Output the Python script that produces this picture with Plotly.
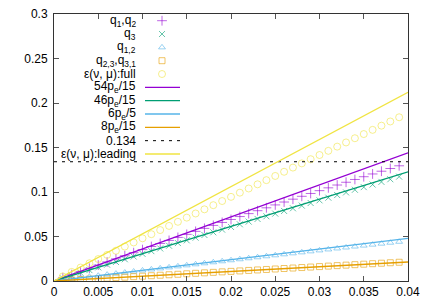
import plotly.graph_objects as go

# ---------------- data ----------------
pe = [0.001, 0.002, 0.003, 0.004, 0.005, 0.006, 0.007, 0.008, 0.009, 0.010,
      0.011, 0.012, 0.013, 0.014, 0.015, 0.016, 0.017, 0.018, 0.019, 0.020,
      0.021, 0.022, 0.023, 0.024, 0.025, 0.026, 0.027, 0.028, 0.029, 0.030,
      0.031, 0.032, 0.033, 0.034, 0.035, 0.036, 0.037, 0.038, 0.039]

q1_q2 = [0.00359, 0.00717, 0.01074, 0.01428, 0.01782, 0.02134, 0.02485, 0.02834, 0.03182, 0.03528,
         0.03873, 0.04216, 0.04558, 0.04899, 0.05238, 0.05576, 0.05912, 0.06247, 0.06580, 0.06912,
         0.07242, 0.07572, 0.07899, 0.08225, 0.08550, 0.08873, 0.09195, 0.09516, 0.09834, 0.10152,
         0.10468, 0.10783, 0.11096, 0.11408, 0.11718, 0.12027, 0.12334, 0.12640, 0.12945]

q3 = [0.00307, 0.00613, 0.00919, 0.01224, 0.01530, 0.01834, 0.02139, 0.02444, 0.02748, 0.03051,
      0.03355, 0.03658, 0.03961, 0.04263, 0.04566, 0.04867, 0.05169, 0.05470, 0.05771, 0.06072,
      0.06372, 0.06672, 0.06972, 0.07272, 0.07571, 0.07870, 0.08168, 0.08467, 0.08764, 0.09062,
      0.09359, 0.09656, 0.09953, 0.10249, 0.10546, 0.10841, 0.11137, 0.11432, 0.11727]

q12 = [0.00120, 0.00239, 0.00358, 0.00477, 0.00596, 0.00714, 0.00831, 0.00948, 0.01065, 0.01182,
       0.01298, 0.01414, 0.01530, 0.01645, 0.01760, 0.01874, 0.01988, 0.02102, 0.02215, 0.02328,
       0.02441, 0.02553, 0.02665, 0.02776, 0.02888, 0.02998, 0.03109, 0.03219, 0.03329, 0.03438,
       0.03547, 0.03656, 0.03764, 0.03872, 0.03980, 0.04087, 0.04194, 0.04300, 0.04406]

q23_q31 = [0.00054, 0.00108, 0.00162, 0.00216, 0.00270, 0.00324, 0.00378, 0.00432, 0.00486, 0.00540,
           0.00594, 0.00648, 0.00702, 0.00756, 0.00810, 0.00864, 0.00918, 0.00972, 0.01026, 0.01080,
           0.01134, 0.01188, 0.01242, 0.01296, 0.01350, 0.01404, 0.01458, 0.01512, 0.01566, 0.01620,
           0.01674, 0.01728, 0.01782, 0.01836, 0.01890, 0.01944, 0.01998, 0.02052, 0.02106]

eps_full = [0.00519, 0.01022, 0.01511, 0.01992, 0.02466, 0.02935, 0.03402, 0.03868, 0.04332, 0.04796,
            0.05260, 0.05724, 0.06189, 0.06653, 0.07119, 0.07585, 0.08052, 0.08519, 0.08987, 0.09455,
            0.09925, 0.10394, 0.10863, 0.11332, 0.11802, 0.12272, 0.12743, 0.13213, 0.13684, 0.14156,
            0.14626, 0.15098, 0.15568, 0.16040, 0.16511, 0.16981, 0.17453, 0.17925, 0.18396]

line_x = [0.0, 0.04]
line_54 = [0.0, 0.144]
line_46 = [0.0, 0.12267]
line_6_5 = [0.0, 0.048]
line_8 = [0.0, 0.02133]
line_const = [0.134, 0.134]
line_leading = [0.0, 0.212]

x_ticks = [0, 0.005, 0.01, 0.015, 0.02, 0.025, 0.03, 0.035, 0.04]
x_labels = ["0", "0.005", "0.01", "0.015", "0.02", "0.025", "0.03", "0.035", "0.04"]
y_ticks = [0, 0.05, 0.1, 0.15, 0.2, 0.25, 0.3]
y_labels = ["0", "0.05", "0.1", "0.15", "0.2", "0.25", "0.3"]

legend_labels = ["q<sub>1</sub>,q<sub>2</sub>", "q<sub>3</sub>", "q<sub>1,2</sub>",
                 "q<sub>2,3</sub>,q<sub>3,1</sub>", "ε(ν, μ):full",
                 "54p<sub>e</sub>/15", "46p<sub>e</sub>/15", "6p<sub>e</sub>/5",
                 "8p<sub>e</sub>/15", "0.134", "ε(ν, μ):leading"]

# ---------------- styles ----------------
PURPLE = "#9400d3"
GREEN = "#009e73"
BLUE = "#56b4e9"
ORANGE = "#e69f00"
YELLOW = "#f0e442"
FONT = "Liberation Sans, Arial, sans-serif"

point_series = [
    (q1_q2, PURPLE, "cross-thin-open", 7),
    (q3, GREEN, "x-thin-open", 6),
    (q12, BLUE, "triangle-up-open", 6),
    (q23_q31, ORANGE, "square-open", 6),
    (eps_full, YELLOW, "circle-open", 7),
]
line_series = [
    (line_54, PURPLE, "solid"),
    (line_46, GREEN, "solid"),
    (line_6_5, BLUE, "solid"),
    (line_8, ORANGE, "solid"),
    (line_const, "#000000", "3px,5px"),
    (line_leading, YELLOW, "solid"),
]

fig = go.Figure()

for ys, col, sym, sz in point_series:
    fig.add_trace(go.Scatter(
        x=pe, y=ys, mode="markers", showlegend=False,
        marker=dict(symbol=sym, size=sz, color=col, opacity=0.6,
                    line=dict(color=col, width=1)),
    ))

for ys, col, dash in line_series:
    fig.add_trace(go.Scatter(
        x=line_x, y=ys, mode="lines", showlegend=False,
        line=dict(color=col, width=1.3 if dash == "solid" else 1, dash=dash),
    ))

# ---------------- hand-made gnuplot-style key (overlay axes in pixel units) ----------------
row0, row_step = 20.7, 13.33
text_right = 138
marker_x = 162
sample_x = [145, 180]

for i, lab in enumerate(legend_labels):
    yy = row0 + i * row_step
    fig.add_annotation(x=text_right, y=yy, xref="x2", yref="y2", text=lab,
                       showarrow=False, xanchor="right", yanchor="middle",
                       font=dict(family=FONT, size=12, color="#000000"))
    if i < len(point_series):
        _, col, sym, sz = point_series[i]
        fig.add_trace(go.Scatter(
            x=[marker_x], y=[yy], xaxis="x2", yaxis="y2", mode="markers",
            showlegend=False, hoverinfo="skip",
            marker=dict(symbol=sym, size=sz, color=col, opacity=0.6,
                        line=dict(color=col, width=1))))
    else:
        _, col, dash = line_series[i - len(point_series)]
        fig.add_trace(go.Scatter(
            x=sample_x, y=[yy, yy], xaxis="x2", yaxis="y2", mode="lines",
            showlegend=False, hoverinfo="skip",
            line=dict(color=col, width=1.3 if dash == "solid" else 1, dash=dash)))

axis_common = dict(showline=True, linecolor="#333333", linewidth=1, mirror="allticks",
                   ticks="inside", ticklen=5, tickcolor="#555555", tickwidth=1,
                   showgrid=False, zeroline=False, automargin=False,
                   tickfont=dict(family=FONT, size=12, color="#000000"))

fig.update_layout(
    width=436, height=305,
    margin=dict(l=54, r=28, t=14, b=24, pad=0),
    paper_bgcolor="white", plot_bgcolor="white",
    xaxis=dict(range=[0, 0.04], tickvals=x_ticks, ticktext=x_labels, **axis_common),
    yaxis=dict(range=[0, 0.3], tickvals=y_ticks, ticktext=y_labels, ticklabelstandoff=3,
               **axis_common),
    xaxis2=dict(overlaying="x", range=[54, 408], visible=False, fixedrange=True,
                automargin=False),
    yaxis2=dict(overlaying="y", range=[281, 14], visible=False, fixedrange=True,
                automargin=False),
    showlegend=False,
)

fig.write_html("out.html", config={"displayModeBar": False},
               post_script="document.body.style.margin='0';document.body.style.overflow='hidden';")
